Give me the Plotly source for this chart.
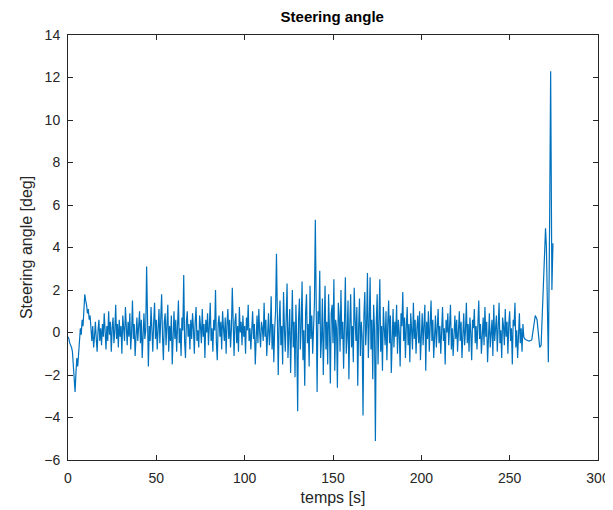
import numpy as np
import plotly.graph_objects as go

# sampled steering angle (deg), every 0.5 s from t = 0 to 258.5 s
seg_00 = [-0.2, -0.3, -0.5, -0.6, -0.7, -0.9, -1.6, -2.1, -2.8, -1.9, -1.2, -1.6, -0.9, -0.4, 0.2, -0.1, 0.6, 0.3, 1.1, 1.8]
seg_10 = [1.5, 1.3, 0.9, 1.1, 0.6, 0.8, 0.2, -0.4, 0.3, -0.7, -0.2, 0.5, -0.3, -0.9, 0.1, 0.6, -0.4, 0.2, -0.6, 0.4]
seg_20 = [-0.2, 0.9, 0.1, -0.8, 0.3, -0.4, 1.0, -0.1, 0.5, -0.9, 0.2, 0.7, -0.5, 0.1, 1.3, -0.3, 0.4, -0.7, 0.6, -0.2]
seg_30 = [0.3, -1.0, 0.8, 0.1, -0.4, 1.2, 0.2, -0.6, 0.5, -0.2, 0.9, -0.8, 0.0, 1.5, -0.3, 0.4, -1.1, 0.3, 0.7, -0.4]
seg_40 = [0.2, 1.0, -0.5, 0.6, -1.2, 0.4, 0.9, -0.3, 0.1, 3.1, -0.6, -1.6, 0.3, -0.4, 1.2, 0.2, -0.9, 0.5, 1.4, -0.3]
seg_50 = [0.6, -0.8, 0.2, 1.1, -0.5, 0.4, 1.8, -0.2, -1.3, 0.5, 0.9, -0.6, 0.1, 1.3, -0.9, 0.3, -0.4, 0.8, -1.5, 0.2]
seg_60 = [1.0, -0.3, 0.6, -0.9, 0.4, 1.5, -0.5, 0.2, -1.1, 0.7, 0.1, 2.7, -0.4, -1.2, 0.5, 1.0, -0.2, 0.4, -0.8, 0.6]
seg_70 = [-0.3, 0.9, 0.2, -1.0, 0.5, 1.2, -0.4, 0.1, -0.7, 0.8, 0.3, -0.5, 1.1, -0.2, 0.4, -1.2, 0.6, 0.0, 0.9, -0.6]
seg_80 = [0.3, 1.4, -0.4, 0.2, -0.9, 0.6, 0.1, 2.0, -0.5, -1.3, 0.4, 0.8, -0.2, 0.5, -0.8, 1.0, 0.2, -0.4, 0.7, -1.0]
seg_90 = [0.4, 1.1, -0.3, 0.6, -0.7, 0.2, 2.1, -0.1, -1.1, 0.5, 0.9, -0.5, 0.3, -0.9, 1.2, 0.0, 0.5, -0.6, 0.8, -0.2]
seg_100 = [0.3, -1.0, 0.7, 0.1, 1.3, -0.4, 0.2, -0.8, 0.6, 1.0, -0.3, 0.4, -1.5, 0.2, 0.8, -0.5, 1.1, 0.0, -0.7, 0.5]
seg_110 = [0.2, -0.4, 1.4, -0.2, 0.6, -1.1, 0.3, 0.9, -0.6, 0.1, 1.7, -0.8, 0.4, -1.4, 0.2, 1.0, 3.7, -0.3, -2.0, 0.5]
seg_120 = [1.5, -0.6, 0.3, -1.5, 1.9, 0.2, -0.9, 0.7, 2.3, -1.2, -0.2, 1.1, -1.9, 0.4, 2.0, -0.7, 0.5, -2.1, 1.3, -0.4]
seg_130 = [-3.7, 0.6, 1.6, -0.8, 0.3, 2.4, -1.3, 0.1, -2.5, 0.9, 1.8, -0.5, 0.4, -1.6, 2.2, -0.3, 0.8, -1.0, 0.2, 1.4]
seg_140 = [5.3, -0.6, -2.8, 1.0, 0.4, 2.9, -1.2, -0.3, 1.6, -2.0, 0.7, 2.2, -0.8, 0.5, -1.5, 1.8, 0.1, -2.4, 0.9, 1.3]
seg_150 = [-0.5, 2.5, -1.8, 0.6, 0.2, -2.6, 1.4, 0.8, -0.9, 2.0, -0.3, 0.5, -1.7, 1.1, 2.6, -1.0, -0.2, 1.5, -2.2, 0.4]
seg_160 = [1.8, -0.7, 0.3, -1.4, 2.1, 0.6, -0.4, 1.2, -2.5, 0.2, 1.6, -1.1, 0.5, -0.2, -3.9, 0.8, 1.9, -0.6, 0.3, 2.8]
seg_170 = [-1.2, 0.4, 2.6, -0.8, 0.6, -2.2, 1.3, 0.1, -5.1, 0.5, 1.8, -1.5, 0.7, 2.5, -0.9, 0.3, -1.8, 1.2, 0.2, -0.6]
seg_180 = [1.0, -1.3, 0.4, 1.5, -0.5, 0.8, -1.9, 0.2, 1.1, -0.7, 0.5, -0.2, 1.3, -1.0, 0.6, 0.0, -1.6, 0.9, 0.3, 1.9]
seg_190 = [-0.4, 0.7, -1.2, 0.3, 1.2, -0.6, 0.4, -1.4, 0.9, 0.1, -0.8, 1.4, -0.3, 0.6, -1.0, 0.2, 0.8, -0.5, 1.0, -1.3]
seg_200 = [0.4, 0.9, -0.6, 0.2, 1.3, -1.8, 0.5, -0.3, 1.0, -0.9, 0.3, 1.5, -0.4, 0.6, -1.2, 0.1, 0.8, -0.7, 0.4, 1.1]
seg_210 = [-0.5, 0.3, -1.0, 0.7, 1.2, -0.4, 0.2, -1.5, 0.6, 0.0, 0.9, -0.6, 0.4, 1.3, -0.8, 0.2, -1.1, 0.5, 0.8, -0.3]
seg_220 = [0.6, -0.9, 0.2, 1.0, -0.4, 0.5, -1.2, 0.3, 0.9, -0.6, 0.1, 1.4, -0.5, 0.4, -0.9, 0.7, 0.0, -1.3, 0.6, 0.2]
seg_230 = [1.1, -0.5, 0.3, -0.8, 0.8, 1.5, -0.3, 0.4, -1.0, 0.2, 0.7, -0.6, 1.2, -0.2, 0.5, -1.4, 0.3, 0.9, -0.7, 0.1]
seg_240 = [0.6, -1.1, 1.3, -0.4, 0.2, 0.8, -0.9, 0.4, 1.4, -0.5, 0.1, -1.2, 0.7, 0.3, -0.6, 1.1, -0.2, 0.5, -1.0, 0.4]
seg_250 = [1.0, -0.4, 0.2, -1.5, 0.6, 0.3, 1.4, -0.7, 0.1, -1.2, 0.5, 0.9, -0.5, 0.2, -0.9, 0.4, -0.2, -0.3]

# final manoeuvre (irregular samples)
tail_t = [259.5, 261.0, 262.5, 263.5, 264.5, 265.5, 266.3, 267.0, 267.8, 268.5, 269.2, 269.7, 270.3, 270.8, 271.3, 271.9, 272.6, 273.2, 273.9, 274.5]
tail_v = [-0.35, -0.4, -0.35, 0.3, 0.8, 0.6, -0.2, -0.7, -0.6, 1.0, 2.6, 3.6, 4.9, 4.0, 1.5, -1.4, 5.0, 12.3, 2.0, 4.2]

sample_step = 0.5
x_ticks = [0, 50, 100, 150, 200, 250, 300]
y_ticks = [-6, -4, -2, 0, 2, 4, 6, 8, 10, 12, 14]

main_v = (seg_00 + seg_10 + seg_20 + seg_30 + seg_40 + seg_50 + seg_60 + seg_70 + seg_80 + seg_90
          + seg_100 + seg_110 + seg_120 + seg_130 + seg_140 + seg_150 + seg_160 + seg_170 + seg_180
          + seg_190 + seg_200 + seg_210 + seg_220 + seg_230 + seg_240 + seg_250)
main_t = list(np.arange(len(main_v)) * sample_step)

t = main_t + tail_t
v = main_v + tail_v

axis_col = "#262626"
font_fam = "Liberation Sans, Arial, sans-serif"

fig = go.Figure()
fig.add_trace(go.Scatter(x=t, y=v, mode="lines",
                         line=dict(color="#0072BD", width=1.2),
                         showlegend=False, hoverinfo="skip"))

axis_common = dict(showline=True, linecolor=axis_col, linewidth=1, mirror="ticks",
                   ticks="inside", ticklen=5, tickcolor=axis_col, tickwidth=1,
                   showgrid=False, zeroline=False, automargin=False,
                   tickfont=dict(family=font_fam, size=14, color=axis_col))

fig.update_layout(
    width=605, height=502,
    margin=dict(l=60, r=15, t=27, b=50),
    paper_bgcolor="white", plot_bgcolor="white",
    font=dict(family=font_fam, color=axis_col),
    title=dict(text="<b>Steering angle</b>", x=0.536, xanchor="center",
               y=0.983, yanchor="middle", automargin=False,
               font=dict(family=font_fam, size=15, color="black")),
    xaxis=dict(range=[0, 300], tickvals=x_ticks, ticklabelstandoff=5,
               title=dict(text="temps [s]", font=dict(size=16, family=font_fam, color=axis_col), standoff=7),
               **axis_common),
    yaxis=dict(range=[-6, 14], tickvals=y_ticks, ticklabelstandoff=4,
               title=dict(text="Steering angle [deg]", font=dict(size=16, family=font_fam, color=axis_col), standoff=7),
               **axis_common),
)

fig.write_html("out.html")
